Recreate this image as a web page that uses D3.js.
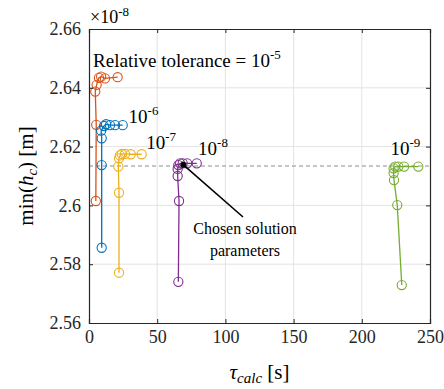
<!DOCTYPE html>
<meta charset="utf-8">
<style>
text, tspan { font-family: "Liberation Serif", "Times New Roman", Times, serif !important; }
</style>
<body style="margin:0">
<script src="https://d3js.org/d3.v7.min.js"></script>
<script>

var width = 444,
    height = 389,
    margin = {top: 29, right: 14, bottom: 66, left: 89},
    serif = "'Times New Roman'";

// computation time [s] vs min film thickness (x1e-8 m), one run per tolerance
var tolerances = ["10^-5", "10^-6", "10^-7", "10^-8", "10^-9"];
var colors = ["#D95319", "#0072BD", "#EDB120", "#7E2F8E", "#77AC30"];

var tol5 = [[5.0, 2.6015], [5.3, 2.6274], [4.6, 2.6387], [5.6, 2.6410], [7.3, 2.6434], [8.9, 2.6438], [11.7, 2.6432], [21.0, 2.6436]];
var tol6 = [[9.3, 2.5856], [9.3, 2.6137], [9.3, 2.6228], [8.9, 2.6254], [11.0, 2.6270], [12.5, 2.6276], [15.4, 2.6273], [19.1, 2.6273], [24.7, 2.6273]];
var tol7 = [[22.0, 2.5771], [22.0, 2.6043], [21.5, 2.6132], [22.0, 2.6160], [22.7, 2.6170], [24.0, 2.6175], [26.4, 2.6175], [30.6, 2.6174], [38.6, 2.6174]];
var tol8 = [[65.5, 2.5740], [66.0, 2.6015], [65.0, 2.6100], [65.0, 2.6124], [65.5, 2.6137], [66.8, 2.6143], [68.7, 2.6143], [72.0, 2.6143], [79.0, 2.6143]];
var tol9 = [[229.3, 2.5729], [226.0, 2.6001], [223.6, 2.6086], [223.3, 2.6110], [223.3, 2.6126], [224.5, 2.6132], [226.8, 2.6132], [231.0, 2.6132], [241.4, 2.6132]];
var runs = [tol5, tol6, tol7, tol8, tol9];

var chosen = [69.2, 2.6138];
var reference = 2.6134;

var xTicks = [0, 50, 100, 150, 200, 250];
var yTicks = [2.56, 2.58, 2.6, 2.62, 2.64, 2.66];

var svg = d3.select("body").append("svg")
    .attr("width", width)
    .attr("height", height)
    .attr("font-family", serif);

var x = d3.scaleLinear().domain([0, 250]).range([margin.left, width - margin.right]);
var y = d3.scaleLinear().domain([2.56, 2.66]).range([height - margin.bottom, margin.top]);

// grid
var grid = svg.append("g").attr("stroke", "#e3e3e3").attr("stroke-width", 1);
grid.selectAll(".gx").data(xTicks.slice(1, -1)).enter().append("line")
    .attr("x1", d => x(d)).attr("x2", d => x(d))
    .attr("y1", y(2.56)).attr("y2", y(2.66));
grid.selectAll(".gy").data(yTicks.slice(1, -1)).enter().append("line")
    .attr("x1", x(0)).attr("x2", x(250))
    .attr("y1", d => y(d)).attr("y2", d => y(d));

// reference level
svg.append("line")
    .attr("x1", x(0)).attr("x2", x(250))
    .attr("y1", y(reference)).attr("y2", y(reference))
    .attr("stroke", "#8c8c8c")
    .attr("stroke-width", 1)
    .attr("stroke-dasharray", "4,3");

// runs
var line = d3.line().x(d => x(d[0])).y(d => y(d[1]));
runs.forEach(function(pts, i) {
  var g = svg.append("g");
  g.append("path")
      .attr("d", line(pts))
      .attr("fill", "none")
      .attr("stroke-width", 1.3)
      .attr("stroke", colors[i]);
  g.selectAll("circle").data(pts).enter().append("circle")
      .attr("cx", d => x(d[0]))
      .attr("cy", d => y(d[1]))
      .attr("r", 4.6)
      .attr("fill", "none")
      .attr("stroke", colors[i])
      .attr("stroke-width", 1.1);
});

// axes
var axes = [
  svg.append("g").attr("transform", "translate(0," + y(2.56) + ")")
    .call(d3.axisBottom(x).tickValues(xTicks).tickSize(-4).tickPadding(7).tickFormat(d3.format("d"))),
  svg.append("g").attr("transform", "translate(0," + y(2.66) + ")")
    .call(d3.axisTop(x).tickValues(xTicks).tickSize(-4).tickFormat("")),
  svg.append("g").attr("transform", "translate(" + x(0) + ",0)")
    .call(d3.axisLeft(y).tickValues(yTicks).tickSize(-4).tickPadding(8).tickFormat(d => d3.format("")(+d.toFixed(2)))),
  svg.append("g").attr("transform", "translate(" + x(250) + ",0)")
    .call(d3.axisRight(y).tickValues(yTicks).tickSize(-4).tickFormat(""))
];
axes.forEach(function(a) {
  a.attr("font-family", serif).attr("font-size", 18);
  a.selectAll("path, line").attr("stroke", "#262626");
  a.select(".domain").attr("stroke-width", 1.2);
  a.selectAll("text").attr("fill", "#262626").attr("font-family", serif);
});

function label(px, py, size) {
  return svg.append("text")
      .attr("x", px).attr("y", py)
      .attr("font-family", serif)
      .attr("font-size", size)
      .attr("fill", "#000");
}

// exponent multiplier
var mult = label(x(0) + 1, 23, 18);
mult.append("tspan").text("\u00d710");
mult.append("tspan").attr("dy", -7).attr("font-size", 13).text("-8");

// tolerance labels
function tolLabel(px, py, base, exp) {
  var t = label(px, py, 19);
  t.append("tspan").text(base);
  t.append("tspan").attr("dy", -8).attr("font-size", 13).text(exp);
}
tolLabel(x(3), 67, "Relative tolerance = 10", "-5");
tolLabel(x(29), 123, "10", "-6");
tolLabel(x(42), 149, "10", "-7");
tolLabel(x(80), 155, "10", "-8");
tolLabel(x(221), 155, "10", "-9");

// chosen point + annotation
svg.append("line")
    .attr("x1", 243).attr("y1", 217)
    .attr("x2", x(chosen[0])).attr("y2", y(chosen[1]))
    .attr("stroke", "#000").attr("stroke-width", 1.6);
svg.append("circle")
    .attr("cx", x(chosen[0])).attr("cy", y(chosen[1]))
    .attr("r", 3).attr("fill", "#000");
label(245, 234, 16).attr("text-anchor", "middle").text("Chosen solution");
label(245, 256, 16).attr("text-anchor", "middle").text("parameters");

// axis titles
var xt = label(x(125), 379, 21).attr("text-anchor", "middle");
xt.append("tspan").attr("font-style", "italic").text("\u03c4");
xt.append("tspan").attr("font-style", "italic").attr("font-size", 15).attr("dy", 4).text("calc");
xt.append("tspan").attr("dy", -4).text("  [s]");

var yt = label(0, 0, 21)
    .attr("transform", "translate(33," + y(2.61) + ") rotate(-90)")
    .attr("text-anchor", "middle");
yt.append("tspan").text("min(");
yt.append("tspan").attr("font-style", "italic").text("h");
yt.append("tspan").attr("font-style", "italic").attr("font-size", 15).attr("dy", 4).text("c");
yt.append("tspan").attr("dy", -4).text(")  [m]");

</script>
</body>
